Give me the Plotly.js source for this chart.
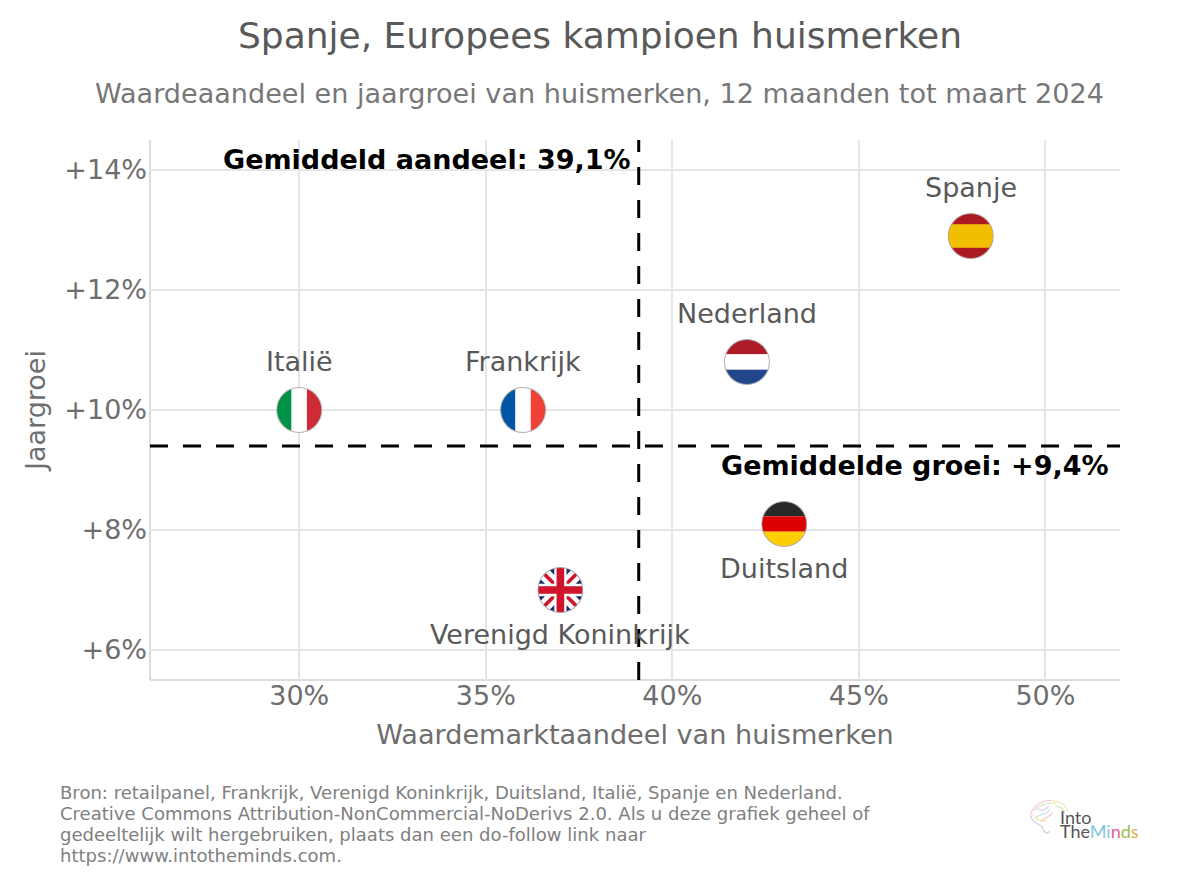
<!DOCTYPE html>
<html><head><meta charset="utf-8">
<script src="https://cdn.plot.ly/plotly-3.0.0.min.js"></script>
<style>html,body{margin:0;padding:0;background:#fff}</style></head>
<body><div id="chart" style="width:1200px;height:885px"></div>
<script>
const countries = ["Spanje","Nederland","Italië","Frankrijk","Duitsland","Verenigd Koninkrijk"];
const marketShare = [48,42,30,36,43,37];
const growth = [12.9,10.8,10,10,8.1,7];
const labelSide = ["top","top","top","top","bottom","bottom"];
const flagKeys = ["es","nl","it","fr","de","gb"];
const meanShare = 39.1;
const meanGrowth = 9.4;
const xRange = [26,52];
const yRange = [5.5,14.5];
const xTicks = [30,35,40,45,50];
const xTickLabels = ["30%","35%","40%","45%","50%"];
const yTicks = [6,8,10,12,14];
const yTickLabels = ["+6%","+8%","+10%","+12%","+14%"];
const footerLines = [
 "Bron: retailpanel, Frankrijk, Verenigd Koninkrijk, Duitsland, Italië, Spanje en Nederland.",
 "Creative Commons Attribution-NonCommercial-NoDerivs 2.0. Als u deze grafiek geheel of",
 "gedeeltelijk wilt hergebruiken, plaats dan een do-follow link naar",
 "https://www.intotheminds.com."];

const flagArt = {
 es:'<rect width="90" height="90" fill="#ab1a20"/><rect y="22" width="90" height="46" fill="#f1bf00"/>',
 nl:'<rect width="90" height="30" fill="#ae1c28"/><rect y="30" width="90" height="30" fill="#fff"/><rect y="60" width="90" height="30" fill="#21468b"/>',
 it:'<rect width="30" height="90" fill="#009246"/><rect x="30" width="30" height="90" fill="#fff"/><rect x="60" width="30" height="90" fill="#ce2b37"/>',
 fr:'<rect width="30" height="90" fill="#0055a4"/><rect x="30" width="30" height="90" fill="#fff"/><rect x="60" width="30" height="90" fill="#ef4135"/>',
 de:'<rect width="90" height="30" fill="#282828"/><rect y="30" width="90" height="30" fill="#dd0000"/><rect y="60" width="90" height="30" fill="#ffce00"/>',
 gb:'<rect width="90" height="90" fill="#1b2a6b"/><path d="M0 0L90 90M90 0L0 90" stroke="#fff" stroke-width="25"/><path d="M0 0L90 90M90 0L0 90" stroke="#cf142b" stroke-width="7"/><path d="M45 0V90M0 45H90" stroke="#fff" stroke-width="24"/><path d="M45 0V90M0 45H90" stroke="#cf142b" stroke-width="15"/>'
};
function flagUri(k){
 const svg='<svg xmlns="http://www.w3.org/2000/svg" width="180" height="180" viewBox="0 0 90 90"><defs><clipPath id="c"><circle cx="45" cy="45" r="44"/></clipPath></defs><g clip-path="url(#c)">'+flagArt[k]+'</g><circle cx="45" cy="45" r="44" fill="none" stroke="#a8a8a8" stroke-opacity="0.9" stroke-width="2"/></svg>';
 return 'data:image/svg+xml;charset=utf-8,'+encodeURIComponent(svg);
}
const brain='<svg xmlns="http://www.w3.org/2000/svg" width="180" height="150" viewBox="0 0 60 50"><g fill="none" stroke-width="1.6" opacity="0.75"><path d="M3 22C5 10 18 2 30 3" stroke="#f2bfd3"/><path d="M8 16C12 9 22 6 36 6" stroke="#c6e3a6"/><path d="M30 3C40 4 47 9 50 16" stroke="#f6df96"/><path d="M3 22C4 30 13 32 18 36" stroke="#cdb6e6"/><path d="M9 25C16 19 24 21 28 14" stroke="#aedcec"/><path d="M16 30C20 24 28 24 31 18" stroke="#f2bfd3"/><path d="M18 36C19 42 24 47 27 41" stroke="#c4c4c4"/><path d="M12 13C17 18 22 15 26 10" stroke="#d9c2ec"/><path d="M34 10C40 11 44 13 46 18" stroke="#c6e3a6"/><path d="M6 20C10 28 20 30 24 28" stroke="#f6df96"/></g></svg>';
const brainUri='data:image/svg+xml;charset=utf-8,'+encodeURIComponent(brain);

const W=1200,H=885,L=150,R=1120,T=140,B=680;
const px2x=(n)=>n*(xRange[1]-xRange[0])/(R-L);
const px2y=(n)=>n*(yRange[1]-yRange[0])/(B-T);
const pxX=(n)=>(n-L)/(R-L);
const pxY=(n)=>(B-n)/(B-T);
const D=46;

const traces=[
 {x:marketShare,y:growth,mode:'markers',type:'scatter',text:countries,hoverinfo:'text',marker:{size:44,color:'rgba(255,255,255,0)'},showlegend:false},
 {x:[meanShare,meanShare],y:yRange,mode:'lines',type:'scatter',hoverinfo:'skip',line:{color:'#000',width:3,dash:'18px,15px'},showlegend:false},
 {x:xRange,y:[meanGrowth,meanGrowth],mode:'lines',type:'scatter',hoverinfo:'skip',line:{color:'#000',width:3,dash:'18px,15px'},showlegend:false}
];
const images=flagKeys.map((k,i)=>({source:flagUri(k),xref:'x',yref:'y',x:marketShare[i],y:growth[i],sizex:px2x(D),sizey:px2y(D),xanchor:'center',yanchor:'middle',sizing:'stretch',layer:'above'}));
images.push({source:brainUri,xref:'paper',yref:'paper',x:pxX(1028),y:pxY(798),sizex:48/(R-L),sizey:40/(B-T),xanchor:'left',yanchor:'top',sizing:'stretch',layer:'above'});

const font='"DejaVu Sans", sans-serif';
const ann=countries.map((c,i)=>({x:marketShare[i],y:growth[i],xref:'x',yref:'y',text:c,showarrow:false,xanchor:'center',yanchor:'middle',yshift:labelSide[i]==='top'?48.5:-44,font:{family:font,size:27,color:'#595959'}}));
ann.push({x:meanShare,y:14,xref:'x',yref:'y',text:'<b>Gemiddeld aandeel: 39,1%</b>',showarrow:false,xanchor:'right',yanchor:'middle',xshift:-6,yshift:11,font:{family:font,size:27,color:'#000'}});
ann.push({x:51.7,y:meanGrowth,xref:'x',yref:'y',text:'<b>Gemiddelde groei: +9,4%</b>',showarrow:false,xanchor:'right',yanchor:'middle',xshift:2,yshift:-19,font:{family:font,size:27,color:'#000'}});
footerLines.forEach((t,i)=>ann.push({xref:'paper',yref:'paper',x:pxX(58),y:pxY(792+i*21.33),xanchor:'left',yanchor:'middle',align:'left',showarrow:false,text:t,font:{family:font,size:18.04,color:'#808080'}}));
ann.push({xref:'paper',yref:'paper',x:pxX(1058),y:pxY(816.5),xanchor:'left',yanchor:'middle',showarrow:false,text:'Into',font:{family:'Lato, sans-serif',size:18,color:'#555'}});
ann.push({xref:'paper',yref:'paper',x:pxX(1058),y:pxY(831),xanchor:'left',yanchor:'middle',showarrow:false,
 text:'<span style="color:#555">The</span><span style="color:#7cc8e0">M</span><span style="color:#9ac2dd">i</span><span style="color:#e0609a">n</span><span style="color:#9cc04a">d</span><span style="color:#e2b04a">s</span>',font:{family:'Lato, sans-serif',size:18}});
ann.push({xref:'paper',yref:'paper',x:(599.5-L)/(R-L),y:pxY(93),xanchor:'center',yanchor:'middle',showarrow:false,text:'Waardeaandeel en jaargroei van huismerken, 12 maanden tot maart 2024',font:{family:font,size:27.07,color:'#777'}});

const axisBase={showgrid:true,gridcolor:'#e5e5e5',gridwidth:2,zeroline:false,showline:false,ticks:'',tickfont:{family:font,size:27,color:'#6e6e6e'}};
const layout={
 width:W,height:H,paper_bgcolor:'#fff',plot_bgcolor:'#fff',showlegend:false,
 margin:{l:L,r:W-R,t:T,b:H-B},
 font:{family:font},
 title:{text:'Spanje, Europees kampioen huismerken',xref:'container',x:600/W,y:0.96,yanchor:'middle',xanchor:'center',font:{family:font,size:36,color:'#595959'}},
 xaxis:Object.assign({},axisBase,{range:xRange,tickvals:xTicks,ticktext:xTickLabels,ticklabelstandoff:-3,title:{text:'Waardemarktaandeel van huismerken',standoff:15,font:{family:font,size:27.1,color:'#6e6e6e'}}}),
 yaxis:Object.assign({},axisBase,{range:yRange,tickvals:yTicks,ticktext:yTickLabels,ticklabelstandoff:2,title:{text:'Jaargroei',standoff:10,font:{family:font,size:27,color:'#6e6e6e'}}}),
 shapes:[
  {type:'line',xref:'paper',yref:'paper',x0:0,x1:0,y0:0,y1:1,layer:'below',line:{color:'#dcdcdc',width:2}},
  {type:'line',xref:'paper',yref:'paper',x0:0,x1:1,y0:0,y1:0,layer:'below',line:{color:'#dcdcdc',width:2}}
 ],
 annotations:ann,images:images
};
Plotly.newPlot('chart',traces,layout,{displayModeBar:false,staticPlot:true});
</script></body></html>
